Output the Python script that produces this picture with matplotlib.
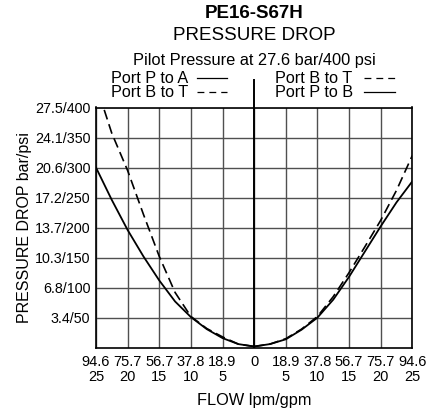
import matplotlib
matplotlib.use("Agg")
import matplotlib.pyplot as plt
from matplotlib.lines import Line2D

plt.rcParams['font.family'] = ['Liberation Sans', 'DejaVu Sans']

# Flow in gpm (negative = left side of chart)
left_flow = [-25, -22.5, -20, -17.5, -15, -12.5, -10, -7.5, -5, -2.5, 0]
left_solid = [300, 246, 196, 152, 112, 77, 51, 31, 16, 6, 2]          # Port P to A
left_dash_flow = [-23.7, -22.5, -20, -17.5, -15, -12.5, -10, -7.5, -5, -2.5, 0]
left_dash = [396, 357, 295, 222, 152, 92, 52, 32, 18, 6, 2]           # Port B to T

right_flow = [0, 2.5, 5, 7.5, 10, 12.5, 15, 17.5, 20, 22.5, 25]
right_dash = [2, 6, 15, 31, 52, 85, 125, 168, 212, 262, 320]          # Port B to T
right_solid = [2, 6, 14, 30, 50, 80, 118, 160, 202, 242, 277]         # Port P to B

x_ticks = [-25, -20, -15, -10, -5, 0, 5, 10, 15, 20, 25]
x_labels = ["94.6\n25", "75.7\n20", "56.7\n15", "37.8\n10", "18.9\n5", "0",
            "18.9\n5", "37.8\n10", "56.7\n15", "75.7\n20", "94.6\n25"]
y_ticks = [50, 100, 150, 200, 250, 300, 350, 400]
y_labels = ["3.4/50", "6.8/100", "10.3/150", "13.7/200", "17.2/250",
            "20.6/300", "24.1/350", "27.5/400"]

W, H = 428, 411
fig = plt.figure(figsize=(W / 100, H / 100), dpi=100)
ax = fig.add_axes([96 / W, 1 - 347.7 / H, (412.3 - 96) / W, (347.7 - 107.5) / H])

ax.set_xlim(-25, 25)
ax.set_ylim(0, 400)
ax.set_xticks(x_ticks)
ax.set_xticklabels(x_labels, fontsize=10.5, linespacing=1.08)
ax.set_yticks(y_ticks)
ax.set_yticklabels(y_labels, fontsize=10.3)
ax.tick_params(axis='both', length=0)
ax.tick_params(axis='x', pad=5.5)
ax.tick_params(axis='y', pad=4)
ax.grid(True, color='#505050', lw=1.0)
ax.set_axisbelow(True)
for s in ax.spines.values():
    s.set_linewidth(1.2)
    s.set_color('black')

ax.axvline(0, color='black', lw=1.4, zorder=3)

dash = (0, (6, 3))
ax.plot(left_flow, left_solid, color='black', lw=1.3, zorder=4)
ax.plot(left_dash_flow, left_dash, color='black', lw=1.2, ls=dash, zorder=4)
ax.plot(right_flow, right_solid, color='black', lw=1.3, zorder=4)
ax.plot(right_flow, right_dash, color='black', lw=1.2, ls=dash, zorder=4)


def fy(y):
    return 1 - y / H


def fx(x):
    return x / W


fig.text(fx(254), fy(405), "FLOW lpm/gpm", fontsize=11.8, ha='center', va='baseline')
fig.text(fx(25), 0.5 * (fy(347.7) + fy(107.5)), "PRESSURE DROP bar/psi", fontsize=11.5,
         rotation=90, ha='center', va='center')

fig.text(fx(254), fy(18.5), "PE16-S67H", fontsize=13.5, fontweight='bold', ha='center', va='baseline')
fig.text(fx(254), fy(39.5), "PRESSURE DROP", fontsize=13.5, ha='center', va='baseline')
fig.text(fx(254), fy(65), "Pilot Pressure at 27.6 bar/400 psi", fontsize=11.8, ha='center', va='baseline')

legend_rows = [
    (111, 83, "Port P to A", '-', 197, 227),
    (111, 97, "Port B to T", (0, (5.5, 4)), 197, 227),
    (275, 83, "Port B to T", (0, (5.5, 4)), 364, 395),
    (275, 97, "Port P to B", '-', 364, 395),
]
for x0, yb, txt, ls, lx0, lx1 in legend_rows:
    fig.text(fx(x0), fy(yb), txt, fontsize=11.7, ha='left', va='baseline')
    fig.add_artist(Line2D([fx(lx0), fx(lx1)], [fy(yb - 5), fy(yb - 5)],
                          color='black', lw=0.9, ls=ls))

# center line extension above the plot
fig.add_artist(Line2D([fx(253.5), fx(253.5)], [fy(80), fy(107.5)], color='black', lw=1.4))

fig.savefig("out.png", dpi=100)
